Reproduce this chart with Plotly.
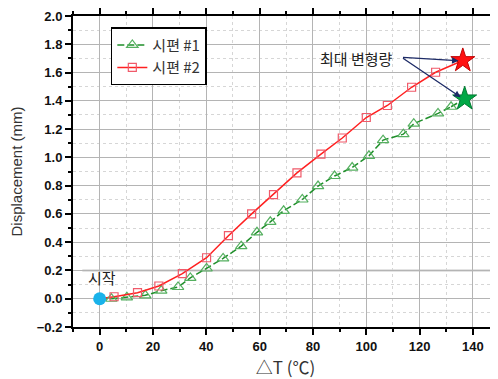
import plotly.graph_objects as go

# Data
t1 = [4.4, 10.2, 17.1, 23.1, 29.4, 34.0, 40.1, 46.3, 53.1, 59.0, 64.0, 69.0, 76.0,
      81.9, 88.1, 94.7, 101.0, 106.3, 113.9, 117.8, 126.9, 131.8]
d1 = [0.0, 0.01, 0.024, 0.057, 0.083, 0.147, 0.214, 0.285, 0.372, 0.47, 0.544, 0.622, 0.702,
      0.797, 0.868, 0.928, 1.011, 1.122, 1.164, 1.238, 1.311, 1.358]
t2 = [5.4, 14.2, 22.2, 31.0, 40.1, 48.3, 57.0, 65.2, 74.0, 83.0, 91.0, 100.0, 107.9, 117.0, 126.0]
d2 = [0.014, 0.043, 0.09, 0.178, 0.29, 0.446, 0.60, 0.737, 0.89, 1.023, 1.137, 1.282, 1.367, 1.496, 1.602]
start_pt = (0.0, 0.0)
max1 = (136.9, 1.414)
max2 = (136.2, 1.685)
names = ["시편 #1", "시편 #2"]

G_LINE = "#1f8f2a"
G_MARK = "#55b060"
R_LINE = "#ff2020"
R_MARK = "#f05a6a"

fig = go.Figure()

# connecting segments (start -> first, last -> star)
fig.add_trace(go.Scatter(x=[start_pt[0], t1[0]], y=[start_pt[1], d1[0]], mode="lines",
                         line=dict(color=G_LINE, width=1.5, dash="7px,3px"), showlegend=False, hoverinfo="skip"))
fig.add_trace(go.Scatter(x=[t1[-1], max1[0]], y=[d1[-1], max1[1]], mode="lines",
                         line=dict(color=G_LINE, width=1.5, dash="7px,3px"), showlegend=False, hoverinfo="skip"))
fig.add_trace(go.Scatter(x=[start_pt[0], t2[0]], y=[start_pt[1], d2[0]], mode="lines",
                         line=dict(color=R_LINE, width=1.5), showlegend=False, hoverinfo="skip"))
fig.add_trace(go.Scatter(x=[t2[-1], max2[0]], y=[d2[-1], max2[1]], mode="lines",
                         line=dict(color=R_LINE, width=1.5), showlegend=False, hoverinfo="skip"))

fig.add_trace(go.Scatter(x=t1, y=d1, mode="lines+markers", name=names[0],
                         line=dict(color=G_LINE, width=1.5, dash="7px,3px"),
                         marker=dict(symbol="triangle-up-open", size=10, color=G_MARK, line=dict(width=1.2))))
fig.add_trace(go.Scatter(x=t2, y=d2, mode="lines+markers", name=names[1],
                         line=dict(color=R_LINE, width=1.5),
                         marker=dict(symbol="square-open", size=8, color=R_MARK, line=dict(width=1.2))))

# stars and start point
fig.add_trace(go.Scatter(x=[max2[0]], y=[max2[1]], mode="markers", showlegend=False,
                         marker=dict(symbol="star", size=18, color="#ff1010", line=dict(color="#c00000", width=1))))
fig.add_trace(go.Scatter(x=[max1[0]], y=[max1[1]], mode="markers", showlegend=False,
                         marker=dict(symbol="star", size=18, color="#00a845", line=dict(color="#007a30", width=1))))
fig.add_trace(go.Scatter(x=[start_pt[0]], y=[start_pt[1]], mode="markers", showlegend=False,
                         marker=dict(symbol="circle", size=13, color="#19b2ea")))

# light band line at 0.2
fig.add_shape(type="line", xref="x", yref="y", x0=-6.5, x1=150, y0=0.2, y1=0.2,
              line=dict(color="#dadada", width=2.5), layer="below")

ann_font = dict(family="Noto Sans CJK KR", size=15, color="#222222")
fig.add_annotation(x=96.5, y=1.70, text="최대 변형량", showarrow=False, font=ann_font)
fig.add_annotation(x=0.7, y=0.15, text="시작", showarrow=False, font=ann_font)
for tgt in [(134.6, 1.683), (135.4, 1.426)]:
    fig.add_annotation(x=tgt[0], y=tgt[1], ax=113.2, ay=1.708, axref="x", ayref="y",
                       xref="x", yref="y", text="", showarrow=True,
                       arrowhead=2, arrowsize=1, arrowwidth=1.3, arrowcolor="#1c2a66")

tick_font = dict(family="Liberation Sans", size=13, color="#111111", weight="bold")
fig.update_xaxes(range=[-10, 149.4], tickvals=[0, 20, 40, 60, 80, 100, 120, 140],
                 ticks="outside", ticklen=6, tickwidth=1.5, tickcolor="black",
                 showline=True, linewidth=2, linecolor="black", mirror="ticks",
                 showgrid=True, gridcolor="#b4b4b4", gridwidth=1,
                 minor=dict(dtick=10, tick0=0, ticks="outside", ticklen=3, tickcolor="black",
                            showgrid=True, gridcolor="#d6d6d6", griddash="dot", gridwidth=1),
                 zeroline=False, tickfont=tick_font, automargin=False,
                 title=dict(text="△T (℃)", font=dict(family="Noto Sans CJK KR", size=17, color="#333333"), standoff=12))
fig.update_yaxes(range=[-0.2, 2.0], dtick=0.2, tick0=0, tickformat=".1f",
                 ticks="outside", ticklen=6, tickwidth=1.5, tickcolor="black",
                 showline=True, linewidth=2, linecolor="black", mirror="ticks",
                 showgrid=True, gridcolor="#b4b4b4", gridwidth=1,
                 minor=dict(dtick=0.1, tick0=0, ticks="outside", ticklen=3, tickcolor="black",
                            showgrid=True, gridcolor="#d6d6d6", griddash="dot", gridwidth=1),
                 zeroline=False, tickfont=tick_font, automargin=False,
                 title=dict(text="Displacement (mm)", font=dict(family="Liberation Sans", size=15, color="#333333"), standoff=18))

fig.update_layout(width=490, height=371, margin=dict(l=65, r=0, t=8, b=52),
                  paper_bgcolor="white", plot_bgcolor="white",
                  legend=dict(x=0.089, y=0.964, xanchor="left", yanchor="top",
                              bordercolor="black", borderwidth=1.5, bgcolor="white",
                              font=dict(family="Noto Sans CJK KR", size=15, color="#333333"),
                              tracegroupgap=0, itemwidth=30))

fig.write_html("out.html")
